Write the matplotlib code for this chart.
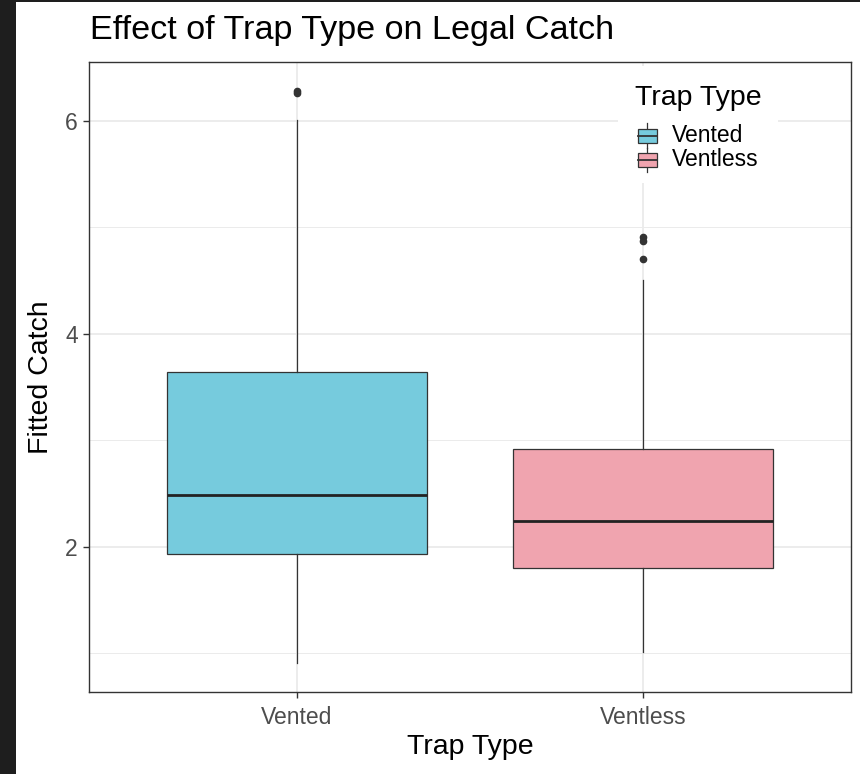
import matplotlib.pyplot as plt
from matplotlib.patches import Rectangle
from matplotlib.legend_handler import HandlerBase
from matplotlib.lines import Line2D

plt.rcParams['font.family'] = ['Liberation Sans', 'DejaVu Sans']

# data (box statistics)
trap_types = ['Vented', 'Ventless']
whisker_low = [0.91, 1.01]
q1 = [1.93, 1.80]
median = [2.49, 2.24]
q3 = [3.64, 2.92]
whisker_high = [6.01, 4.51]
outliers = [[6.26, 6.28], [4.70, 4.87, 4.91]]
fill_colors = ['#76CBDD', '#F0A4AF']

edge = '#333333'

fig = plt.figure(figsize=(8.6, 7.74), dpi=100)
fig.patch.set_facecolor('#1e1e1e')
fig.add_artist(Rectangle((16 / 860, 0), 1, 772 / 774, transform=fig.transFigure,
                         facecolor='white', edgecolor='none', zorder=-10))

ax = fig.add_axes([89 / 860, 1 - 692 / 774, 762 / 860, 630 / 774])

stats = []
for i, name in enumerate(trap_types):
    stats.append(dict(label=name, whislo=whisker_low[i], q1=q1[i], med=median[i],
                      q3=q3[i], whishi=whisker_high[i], fliers=outliers[i]))

bp = ax.bxp(stats, positions=[1, 2], widths=0.75, patch_artist=True,
            showcaps=False,
            boxprops=dict(edgecolor=edge, linewidth=0.9),
            whiskerprops=dict(color=edge, linewidth=0.9),
            medianprops=dict(color='#222222', linewidth=2.0),
            flierprops=dict(marker='o', markerfacecolor=edge, markeredgecolor=edge,
                            markersize=4.5, linestyle='none'))
for patch, c in zip(bp['boxes'], fill_colors):
    patch.set_facecolor(c)
for art in bp['boxes'] + bp['whiskers'] + bp['medians'] + bp['fliers']:
    art.set_zorder(3)

ax.set_xlim(0.4, 2.6)
ax.set_ylim(0.638, 6.554)
ax.set_yticks([2, 4, 6])
ax.set_yticks([1, 3, 5], minor=True)
ax.set_xticks([1, 2])
ax.set_xticklabels(trap_types)

ax.grid(True, which='major', color='#EBEBEB', linewidth=1.3, zorder=0)
ax.grid(True, which='minor', axis='y', color='#EBEBEB', linewidth=0.7, zorder=0)
ax.set_axisbelow(True)
for s in ax.spines.values():
    s.set_color(edge)
    s.set_linewidth(1.0)
ax.tick_params(which='major', length=4, width=1, color=edge, labelcolor='#4D4D4D',
               labelsize=16.5, pad=4)
ax.tick_params(axis='x', pad=6)
ax.tick_params(which='minor', length=0)

ax.set_xlabel('Trap Type', fontsize=20.5, labelpad=4)
ax.set_ylabel('Fitted Catch', fontsize=20.5, labelpad=8)

fig.text(90 / 860, 1 - 30 / 774, 'Effect of Trap Type on Legal Catch', fontsize=24.6,
         ha='left', va='center')

# legend background patch (covers grid lines like the reference)
ax.add_artist(Rectangle((618 / 860, 1 - 183 / 774), 160 / 860, 117 / 774,
                        transform=fig.transFigure, facecolor='white',
                        edgecolor='none', zorder=1))
fig.text(635 / 860, 1 - 95 / 774, 'Trap Type', fontsize=20.5, ha='left',
         va='center_baseline')


class BoxHandler(HandlerBase):
    def create_artists(self, legend, orig, xd, yd, width, height, fontsize, trans):
        c = orig.get_facecolor()
        cx = xd + width / 2
        r = Rectangle((xd, yd), width, height, facecolor=c,
                      edgecolor=edge, linewidth=0.9, transform=trans)
        l1 = Line2D([cx, cx], [yd - height * 0.4, yd + height * 1.4], color=edge,
                    linewidth=0.9, transform=trans)
        l2 = Line2D([xd, xd + width], [yd + height / 2] * 2,
                    color=edge, linewidth=1.3, transform=trans)
        return [l1, r, l2]


handles = [Rectangle((0, 0), 1, 1, facecolor=c) for c in fill_colors]
leg = ax.legend(handles, trap_types, loc='upper left',
                bbox_to_anchor=(633 / 860, 1 - 119 / 774), bbox_transform=fig.transFigure,
                handler_map={Rectangle: BoxHandler()}, frameon=False,
                fontsize=16.5, handlelength=0.85, handleheight=0.55, handletextpad=0.65,
                labelspacing=0.05, borderpad=0.2, borderaxespad=0)
leg.set_zorder(4)

fig.savefig('out.png', dpi=100, facecolor=fig.get_facecolor())
